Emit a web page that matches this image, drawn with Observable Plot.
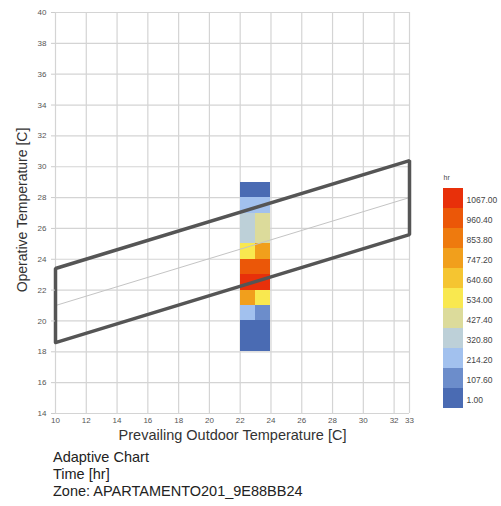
<!DOCTYPE html>
<html>
<head>
<meta charset="utf-8">
<script src="https://cdn.jsdelivr.net/npm/d3@7"></script>
<script src="https://cdn.jsdelivr.net/npm/@observablehq/plot@0.6"></script>
<style>
  html, body { margin: 0; padding: 0; background: #fff; }
  #wrap { position: relative; width: 501px; height: 506px; font-family: "Liberation Sans", Arial, sans-serif; }
  #main { position: absolute; left: 0; top: 0; }
  #legend { position: absolute; left: 430px; top: 165px; }
  #caption { position: absolute; left: 53px; top: 449px; font-size: 14.5px; line-height: 17px; color: #222; }
</style>
</head>
<body>
<div id="wrap">
  <div id="main"></div>
  <div id="legend"></div>
  <div id="caption">
    <div>Adaptive Chart</div>
    <div>Time [hr]</div>
    <div>Zone: APARTAMENTO201_9E88BB24</div>
  </div>
</div>
<script>
// ---- data ----
const xTicks = [10, 12, 14, 16, 18, 20, 22, 24, 26, 28, 30, 32, 33];
const yTicks = [14, 16, 18, 20, 22, 24, 26, 28, 30, 32, 34, 36, 38, 40];

// heat map bins (lower edges, 1 °C wide)
const outdoorBins = [22, 23];
const operativeBins = [18, 19, 20, 21, 22, 23, 24, 25, 26, 27, 28];
// hours per operative bin (bottom -> top) for each outdoor bin
const hoursOutdoor22 = [12, 35, 205, 760, 1067, 955, 540, 330, 310, 220, 40];
const hoursOutdoor23 = [8, 30, 120, 520, 1045, 950, 735, 420, 435, 200, 25];

// adaptive comfort polygon
const bandX = [10, 33];
const bandLower = [18.6, 25.6];
const bandUpper = [23.4, 30.4];
const neutralT = [21.0, 28.0];

// legend
const legendLabels = [1.00, 107.60, 214.20, 320.80, 427.40, 534.00, 640.60, 747.20, 853.80, 960.40, 1067.00];
const legendColors = ["#4a6bb3", "#6c8dcb", "#a2c1ee", "#bdd0d8", "#dcdb9b", "#f9e84f", "#f5c531", "#f19f1c", "#ee7a0e", "#eb5708", "#e8300a"];

// ---- derived structures ----
const hoursByBin = [hoursOutdoor22, hoursOutdoor23];
const cells = [];
outdoorBins.forEach((xb, i) => {
  operativeBins.forEach((yb, j) => {
    cells.push({x1: xb, x2: xb + 1, y1: yb, y2: yb + 1, hours: hoursByBin[i][j]});
  });
});
const poly = [
  {x: bandX[0], y: bandLower[0]},
  {x: bandX[1], y: bandLower[1]},
  {x: bandX[1], y: bandUpper[1]},
  {x: bandX[0], y: bandUpper[0]},
  {x: bandX[0], y: bandLower[0]}
];
const neutral = bandX.map((x, i) => ({x, y: neutralT[i]}));
const thresholds = legendLabels.slice(1).map((v, i) => (v + legendLabels[i]) / 2);
const colorScale = {type: "threshold", domain: thresholds, range: legendColors};

const font = "'Liberation Sans', Arial, sans-serif";

const chart = Plot.plot({
  width: 501,
  height: 445,
  marginLeft: 55,
  marginRight: 92,
  marginTop: 12,
  marginBottom: 32,
  x: {domain: [10, 33]},
  y: {domain: [14, 40]},
  color: colorScale,
  style: {fontFamily: font, fontSize: "8px", color: "#555", background: "#fff"},
  marks: [
    Plot.gridX(xTicks, {stroke: "#d4d4d4", strokeOpacity: 1, strokeWidth: 1.2}),
    Plot.gridY(yTicks, {stroke: "#d4d4d4", strokeOpacity: 1, strokeWidth: 1.2}),
    Plot.rect(cells, {x1: "x1", x2: "x2", y1: "y1", y2: "y2", fill: "hours", shapeRendering: "crispEdges"}),
    Plot.line(neutral, {x: "x", y: "y", stroke: "#c4c4c4", strokeWidth: 1}),
    Plot.line(poly, {x: "x", y: "y", stroke: "#555", strokeWidth: 3.5, strokeLinejoin: "miter"}),
    Plot.axisX(xTicks, {tickSize: 0, tickPadding: 4, label: null, tickFormat: d => String(d), fill: "#555"}),
    Plot.axisY(yTicks, {tickSize: 4, tickPadding: 5, label: null, tickFormat: d => String(d), stroke: "#ccc", fill: "#555"}),
    Plot.text(["Prevailing Outdoor Temperature [C]"], {frameAnchor: "bottom", dy: 22, textAnchor: "middle", lineAnchor: "middle", fontSize: 14.5, fill: "#333"}),
    Plot.text(["Operative Temperature [C]"], {frameAnchor: "left", dx: -33, dy: -3, rotate: -90, textAnchor: "middle", lineAnchor: "middle", fontSize: 14, fill: "#333"})
  ]
});
document.getElementById("main").appendChild(chart);

const legend = Plot.plot({
  width: 71,
  height: 260,
  marginTop: 18,
  marginBottom: 13,
  marginLeft: 0,
  marginRight: 0,
  x: {domain: [0, 1], range: [13, 33], axis: null},
  y: {type: "band", domain: legendLabels.slice().reverse(), padding: 0, axis: null},
  color: colorScale,
  style: {fontFamily: font, fontSize: "8.5px", color: "#444", background: "#fff"},
  marks: [
    Plot.barX(legendLabels, {y: d => d, x1: 0, x2: 1, fill: d => d, shapeRendering: "crispEdges"}),
    Plot.text(legendLabels, {y: d => d, x: 1, dx: 3, dy: 2, text: d => d.toFixed(2), textAnchor: "start", fill: "#444"}),
    Plot.text(["hr"], {x: 0, frameAnchor: "top", dy: -8, textAnchor: "start", fontSize: 7, fill: "#444"})
  ]
});
document.getElementById("legend").appendChild(legend);
</script>
</body>
</html>
